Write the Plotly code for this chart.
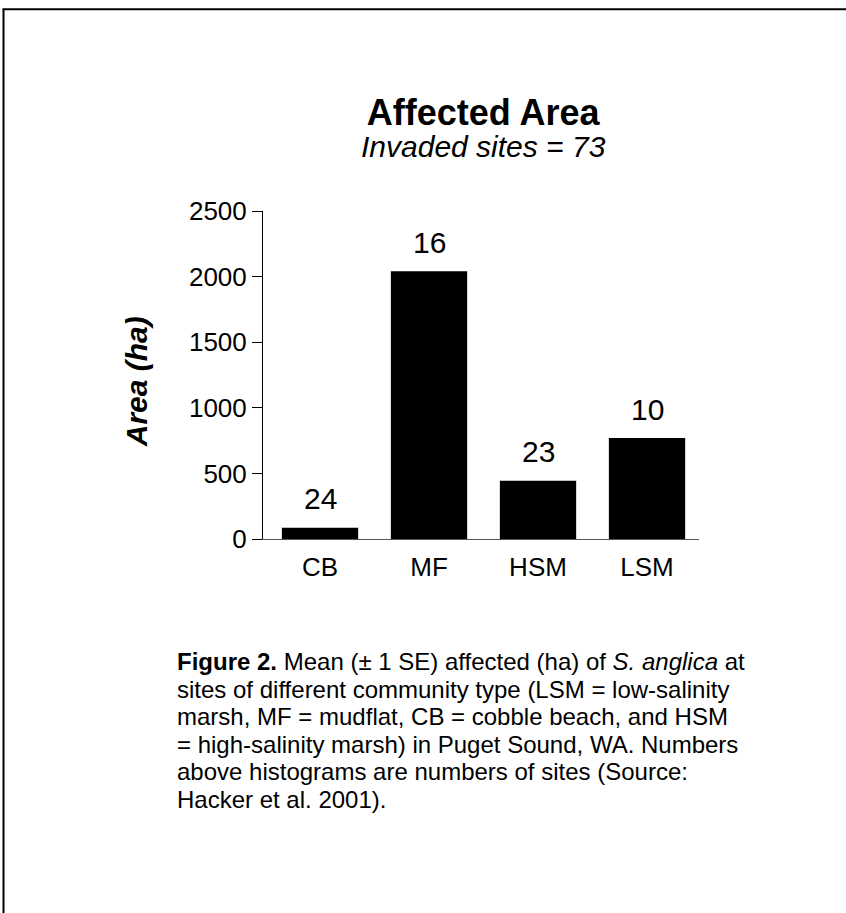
import plotly.graph_objects as go

# ---- data ----
categories = ["CB", "MF", "HSM", "LSM"]
mean_area = [86, 2040, 444, 769]
site_counts = [24, 16, 23, 10]
y_ticks = [0, 500, 1000, 1500, 2000, 2500]

title_text = "Affected Area"
subtitle_text = "Invaded sites = 73"
y_title = "<b><i>Area (ha)</i></b>"
caption_lines = [
    "<b>Figure 2.</b> Mean (± 1 SE) affected (ha) of <i>S. anglica</i> at",
    "sites of different community type (LSM = low-salinity",
    "marsh, MF = mudflat, CB = cobble beach, and HSM",
    "= high-salinity marsh) in Puget Sound, WA. Numbers",
    "above histograms are numbers of sites (Source:",
    "Hacker et al. 2001).",
]

W, H = 846, 913
L, R, T, B = 263, 699, 210.5, 539
FONT = "Liberation Sans, Arial, Helvetica, sans-serif"


def px(x):
    return (x - L) / (R - L)


def py(y):
    return (B - y) / (B - T)


fig = go.Figure()
fig.add_trace(go.Bar(
    x=categories, y=mean_area, width=0.70,
    marker=dict(color="black", line=dict(width=0)),
    hoverinfo="skip",
))

annotations = []
for c, v, n in zip(categories, mean_area, site_counts):
    annotations.append(dict(
        x=c, y=v, xref="x", yref="y", text=str(n), showarrow=False,
        yanchor="middle", yshift=29, font=dict(size=30, color="black", family=FONT),
    ))

heading = (
    f"<span style='font-size:36px'><b>{title_text}</b></span><br>"
    f"<span style='font-size:30px'><i>{subtitle_text}</i></span>"
)
annotations += [
    dict(x=px(483), y=py(127), xref="paper", yref="paper", text=heading,
         showarrow=False, xanchor="center", yanchor="middle", align="center",
         font=dict(size=24.6, color="black", family=FONT)),
    dict(x=px(136), y=py(382), xref="paper", yref="paper", text=y_title,
         showarrow=False, textangle=-90, xanchor="center", yanchor="middle",
         font=dict(size=30, color="black", family=FONT)),
]

line_y0, line_dy = 662, 27.5
for i, line in enumerate(caption_lines):
    annotations.append(dict(
        x=px(175), y=py(line_y0 + i * line_dy), xref="paper", yref="paper",
        text=line, showarrow=False, xanchor="left", yanchor="middle",
        align="left", font=dict(size=24, color="black", family=FONT),
    ))

shapes = [
    dict(type="line", xref="paper", yref="paper",
         x0=px(3.5), y0=py(H + 5), x1=px(3.5), y1=py(8.5),
         line=dict(color="black", width=2)),
    dict(type="line", xref="paper", yref="paper",
         x0=px(2.5), y0=py(8.5), x1=px(W + 5), y1=py(8.5),
         line=dict(color="black", width=2)),
]

fig.update_layout(
    width=W, height=H,
    margin=dict(l=L, r=W - R, t=T, b=H - B, pad=0),
    paper_bgcolor="white", plot_bgcolor="white",
    showlegend=False,
    font=dict(family=FONT, color="black"),
    annotations=annotations,
    shapes=shapes,
    bargap=0.3,
)
fig.update_xaxes(
    range=[-0.523, 3.477], showline=True, linecolor="#555555", linewidth=1,
    ticks="", showgrid=False, zeroline=False, ticklabelstandoff=5,
    tickfont=dict(size=26, color="black", family=FONT),
)
fig.update_yaxes(
    range=[0, 2500], tickvals=y_ticks, showline=True, linecolor="black",
    linewidth=1, ticks="outside", ticklen=10, tickwidth=1, tickcolor="black",
    showgrid=False, zeroline=False,
    tickfont=dict(size=26, color="black", family=FONT),
)

fig.write_html(
    "out.html",
    config={"displayModeBar": False},
    post_script="document.body.style.margin='0';document.body.style.overflow='hidden';",
)
